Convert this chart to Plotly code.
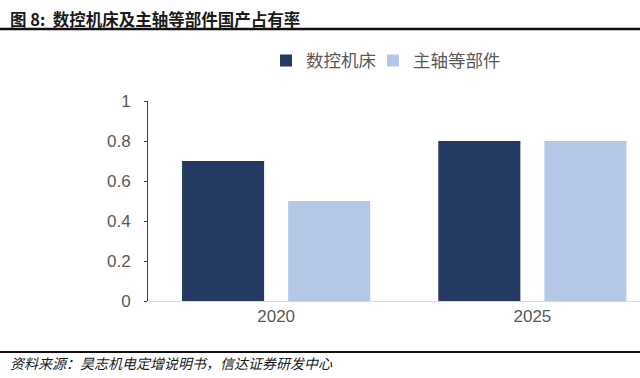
import plotly.graph_objects as go

categories = ["2020", "2025"]
series_names = ["数控机床", "主轴等部件"]
cnc_values = [0.7, 0.8]
spindle_values = [0.5, 0.8]
y_ticks = [0, 0.2, 0.4, 0.6, 0.8, 1]
y_tick_labels = ["0", "0.2", "0.4", "0.6", "0.8", "1"]
title_text = "图 8:  数控机床及主轴等部件国产占有率"
source_text = "资料来源：昊志机电定增说明书，信达证券研发中心"

DARK = "#253A63"
LIGHT = "#B4C7E7"
GRAY = "#595959"
CJK = "Noto Sans CJK SC"
NUM = "Liberation Sans, Arial"

fig = go.Figure()
fig.add_trace(go.Bar(x=categories, y=cnc_values, name=series_names[0],
                     marker=dict(color=DARK, line=dict(width=0)), legend="legend"))
fig.add_trace(go.Bar(x=categories, y=spindle_values, name=series_names[1],
                     marker=dict(color=LIGHT, line=dict(width=0)), legend="legend2"))

legend_common = dict(orientation="h", xref="container", yref="container",
                     y=0.887, xanchor="left", yanchor="top",
                     font=dict(family=CJK, size=17.5, color=GRAY),
                     itemsizing="constant", bgcolor="rgba(0,0,0,0)")

fig.update_layout(
    width=640, height=378,
    margin=dict(l=148, r=0, t=101, b=77, autoexpand=False),
    paper_bgcolor="white", plot_bgcolor="white",
    barmode="group", bargap=0.172, bargroupgap=0.2264,
    showlegend=True,
    legend=dict(x=266 / 640, **legend_common),
    legend2=dict(x=373 / 640, **legend_common),
    xaxis=dict(type="category", range=[-0.5, 1.42],
               showline=True, linecolor="#D9D9D9", linewidth=1,
               ticks="", showgrid=False,
               tickfont=dict(family=NUM, size=17, color=GRAY)),
    yaxis=dict(range=[0, 1], tickvals=y_ticks, ticktext=y_tick_labels,
               showline=True, linecolor="#404040", linewidth=1,
               ticks="outside", ticklen=3, tickcolor="#404040",
               showgrid=False, zeroline=False,
               tickfont=dict(family=NUM, size=17, color=GRAY),
               ticklabelstandoff=10),
    annotations=[
        dict(text="<b>" + title_text + "</b>", xref="paper", yref="paper",
             x=(8 - 148) / 492, y=1 + (101 - 19) / 200, xanchor="left", yanchor="middle",
             showarrow=False, font=dict(family=CJK, size=16.5, color="#1a1a1a")),
        dict(text="<i>" + source_text + "</i>", xref="paper", yref="paper",
             x=(8 - 148) / 492, y=-(363 - 301) / 200, xanchor="left", yanchor="middle",
             showarrow=False, font=dict(family=CJK, size=14, color="#1a1a1a")),
    ],
    shapes=[
        dict(type="line", xref="paper", yref="paper",
             x0=-148 / 492, x1=1, y0=1 + (101 - 29) / 200, y1=1 + (101 - 29) / 200,
             line=dict(color="#111111", width=2.5)),
        dict(type="line", xref="paper", yref="paper",
             x0=-148 / 492, x1=1, y0=-(352 - 301) / 200, y1=-(352 - 301) / 200,
             line=dict(color="#111111", width=2)),
    ],
)

fig.write_html("out.html", config={"displayModeBar": False},
               post_script="document.body.style.margin='0';document.body.style.overflow='hidden';")
